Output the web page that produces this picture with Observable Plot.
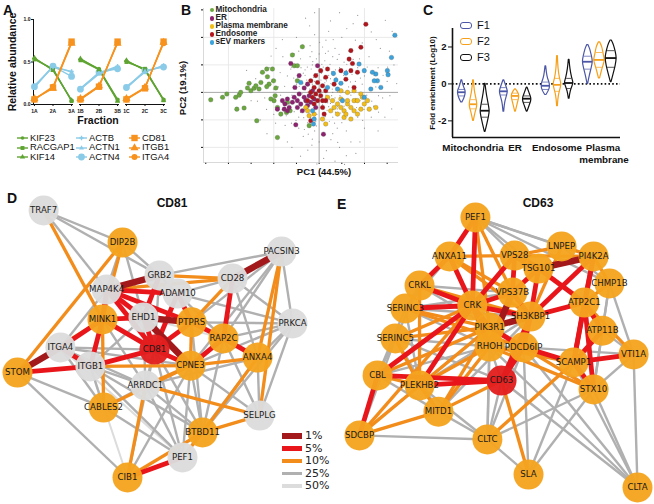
<!DOCTYPE html>
<html><head><meta charset="utf-8">
<script src="https://cdn.jsdelivr.net/npm/d3@7"></script>
<script src="https://cdn.jsdelivr.net/npm/@observablehq/plot@0.6"></script>
<style>
body{margin:0;background:#fff;}
#root{position:relative;width:654px;height:504px;overflow:hidden;font-family:Arial,"Liberation Sans",sans-serif;color:#111;}
#root svg{position:absolute;}
.t{position:absolute;white-space:nowrap;line-height:1;}
</style></head><body><div id="root"></div>
<script>
// ================= DATA =================
// Panel A
const groupsA = ["A","B","C"];
const fractionsA = [1,2,3];
const proteinsA = ["KIF23","RACGAP1","KIF14","ACTB","ACTN1","ACTN4","CD81","ITGB1","ITGA4"];
const KIF23   = [0.54,0.41,0.05, 0.53,0.42,0.06, 0.51,0.41,0.06];
const RACGAP1 = [0.53,0.42,0.04, 0.52,0.41,0.05, 0.50,0.42,0.05];
const KIF14   = [0.55,0.40,0.05, 0.54,0.41,0.04, 0.52,0.40,0.05];
const ACTB    = [0.22,0.44,0.39, 0.19,0.37,0.45, 0.21,0.38,0.46];
const ACTN1   = [0.20,0.45,0.38, 0.18,0.36,0.44, 0.19,0.39,0.45];
const ACTN4   = [0.21,0.45,0.33, 0.18,0.38,0.42, 0.20,0.40,0.44];
const CD81    = [0.06,0.20,0.74, 0.06,0.21,0.74, 0.06,0.19,0.74];
const ITGB1   = [0.07,0.19,0.72, 0.07,0.22,0.72, 0.07,0.20,0.73];
const ITGA4   = [0.06,0.21,0.73, 0.06,0.21,0.73, 0.06,0.20,0.72];

// Panel B (PC1, PC2)
const classesB = ["Mitochondria","ER","Plasma membrane","Endosome","sEV markers"];
const mitoPts = [[-4.78,-0.27],[-4.26,-0.18],[-4.07,-0.06],[-3.68,-0.18],[-3.53,-0.10],[-3.63,-0.61],[-3.31,-0.57],[-3.09,0.33],[-3.01,0.06],[-2.87,0.15],[-2.79,0.24],[-2.65,0.12],[-2.75,-1.03],[-2.57,0.36],[-2.50,0.73],[-2.31,0.85],[-2.28,0.57],[-2.21,0.30],[-2.01,0.42],[-1.91,0.16],[-1.94,-0.12],[-1.99,-0.30],[-1.84,-1.64],[-1.84,-0.55],[-1.69,-0.79],[-1.44,-0.73],[-1.28,-0.67],[-1.18,1.36],[-1.10,0.97],[-0.96,0.97],[-0.74,1.66],[-1.40,-0.36],[-2.13,-0.24],[-2.31,0.21],[-3.16,0.16],[-3.46,0.0],[-0.44,-1.21],[-0.96,0.42],[-2.06,0.85]];
const erPts = [[-1.62,-0.30],[-1.51,-0.42],[-1.40,-0.24],[-1.32,-0.55],[-1.54,-0.61],[-1.18,-0.36],[-1.10,-0.18],[-0.96,-0.30],[-0.88,-0.06],[-0.81,-0.42],[-0.66,-0.18],[-0.59,-0.30],[-0.44,-0.12],[-0.37,-0.36],[-0.22,-0.24],[-1.25,1.05],[-0.88,0.61],[-0.07,0.97],[-1.03,-1.18],[0.19,-1.52],[-0.51,0.30],[-0.29,0.06],[-1.40,-0.67],[-0.74,-0.67],[-0.15,-0.55],[-0.66,0.16],[-1.07,0.18],[-0.51,-0.48],[-1.84,-0.61],[-0.96,-0.55]];
const pmPts = [[0.96,0.06],[1.25,0],[1.54,0.06],[1.84,-0.06],[1.91,-0.18],[0.59,-0.30],[0.81,-0.42],[0.96,-0.55],[1.10,-0.67],[1.25,-0.42],[1.40,-0.55],[1.54,-0.67],[1.69,-0.79],[1.84,-0.61],[1.99,-0.42],[2.13,-0.30],[0.81,-0.79],[1.10,-0.91],[0.51,-0.67],[0.66,-0.55],[-0.59,-0.55],[-0.51,-0.67],[-0.44,-0.85],[2.50,-0.55],[0.37,-0.18],[-0.22,-0.79],[0.15,-0.97],[0.29,-1.15],[1.25,-0.30],[1.54,-0.30],[0.96,-0.24],[1.69,-0.30],[2.21,-0.61],[1.18,-0.79],[1.40,-0.97]];
const endoPts = [[2.06,2.48],[1.84,1.64],[1.40,1.52],[1.32,1.21],[1.47,1.05],[0.96,0.79],[1.40,0.79],[1.18,0.48],[1.69,0.73],[0.37,0.85],[0.29,0.55],[0.07,0.79],[0.66,0.30],[0.29,-0.30],[-0.07,-0.30],[0.15,-0.55],[-0.22,0.18],[-0.37,0.42],[1.54,0.18],[0.22,-0.79],[0,0.06],[-0.15,-0.06],[0.07,-0.12],[-0.29,-0.18],[0.15,0.24],[-0.07,0.36],[-0.22,-0.42],[-0.37,0],[0.15,-0.3],[-0.51,-0.30],[0.29,0.06],[-0.15,0.61],[-0.37,-1.03]];
const sevPts = [[3.34,2.08],[3.19,1.27],[3.01,0.79],[3.04,0.64],[2.50,0.67],[2.57,0.42],[2.43,0.42],[2.28,0.12],[2.35,0.73],[1.99,0.79],[1.76,1.03],[1.18,0.70],[0.63,0.69],[0.74,0.45],[0.96,0.33],[0.81,0.12],[1.03,-0.30],[-0.22,-0.97],[-0.25,-1.15],[-0.29,-0.67],[-0.81,0.36],[1.99,-0.18],[2.72,0.18],[0.37,0.18]];
const cloudPts = [[0.1,0.2],[-0.2,0.4],[0.3,-0.1],[-0.4,-0.3],[0.5,0.5],[-0.6,0.1],[0.2,-0.6],[-0.1,-0.8],[0.7,-0.2],[-0.8,-0.5],[0.4,0.9],[-0.3,1.0],[0.9,0.3],[-1.0,0.3],[0.6,-0.9],[-0.5,-1.1],[1.1,-0.5],[-1.2,-0.1],[0.0,1.4],[0.8,1.2],[-0.7,0.7],[1.2,0.8],[-1.4,0.6],[1.4,-0.1],[-0.2,-1.4],[0.3,-1.2],[1.0,-1.1],[-0.9,-0.9],[1.6,0.4],[-1.6,-0.4],[0.1,0.7],[-0.3,0.3],[0.4,0.2],[-0.5,-0.6],[0.6,0.0],[-0.1,-0.3],[0.2,0.5],[0.8,-0.6],[-0.6,-0.2],[0.5,-0.4],[-0.8,0.9],[0.9,0.9],[-1.1,-0.7],[1.3,0.2],[-0.4,1.3],[0.7,1.6],[-0.9,1.5],[1.5,1.2],[-1.3,1.1],[1.8,-0.3],[-1.8,0.2],[0.0,-1.8],[0.6,-1.5],[-0.7,-1.6],[1.2,-1.4],[1.7,-0.9],[-1.5,-1.2],[2.0,0.6],[-2.0,-0.8],[0.3,1.9],[-0.2,2.1],[1.0,2.0],[-1.0,2.0],[2.2,1.3],[-2.2,0.9],[2.4,-0.5],[-2.4,-0.2],[0.9,-2.0],[-0.5,-2.1],[1.9,1.8],[2.6,0.9],[2.8,-0.2],[3.0,0.4],[-2.6,-1.0],[-2.8,0.5],[1.5,2.5],[0.5,2.6],[-0.6,2.7],[2.3,2.2],[1.2,-2.3],[-1.2,-2.0],[3.2,-0.6],[-3.0,-0.3],[0.2,-2.4],[1.8,-1.8],[-1.9,1.6],[2.7,1.6],[3.3,1.0],[-3.2,0.8],[0.05,-0.05],[-0.15,0.15],[0.25,0.35],[-0.35,-0.15],[0.45,-0.25],[-0.25,0.55],[0.15,-0.45],[0.65,0.25],[-0.55,0.45],[0.35,-0.65],[-0.45,-0.75],[0.75,0.55],[0.85,-0.35],[-0.75,-0.05],[1.05,0.05],[-1.05,-0.25],[0.55,0.75],[-0.35,0.85],[0.95,-0.75],[1.15,0.45],[-0.95,0.55],[0.25,1.15],[-0.15,-1.05],[1.25,-0.85],[-1.25,0.85],[0.45,-1.05],[1.45,0.65],[-0.65,-1.35],[0.15,1.65],[1.65,-0.55],[-1.45,-0.85],[2.1,-0.1],[1.9,0.3],[2.3,-0.9],[2.5,0.2],[1.3,1.5],[0.6,1.3],[1.1,1.1],[1.7,0.9],[2.0,-1.3],[1.4,-1.8],[0.8,-1.3],[-0.3,-1.7],[-0.9,-1.3],[-1.7,-0.1],[-2.1,0.4],[-1.6,1.3],[-1.1,1.4],[-0.4,1.7],[0.4,1.5],[1.6,1.9],[2.9,-0.9],[2.6,-1.4],[3.1,1.5],[-2.3,-1.5],[-1.4,-1.8],[-0.1,-2.6],[0.7,-2.5],[1.7,2.8],[0.9,2.9],[-0.2,2.9],[0.12,0.02],[-0.08,-0.12],[0.32,0.12],[-0.28,0.22],[0.02,0.32],[0.22,-0.28],[-0.18,-0.52],[0.42,0.62],[-0.48,0.02],[0.62,-0.62],[0.52,0.32],[-0.62,0.62],[0.82,0.02],[-0.38,-0.92],[0.12,-0.98],[0.72,0.82],[1.02,-0.32],[-0.88,0.22],[0.18,0.92],[-0.12,1.22],
[0.08,0.45],[-0.42,0.12],[0.55,-0.12],[-0.22,-0.62],[0.38,-0.38],[-0.58,-0.42],[0.72,0.38],[-0.72,0.32],[0.18,-0.78],[-0.08,0.68],[0.92,-0.12],[-0.92,-0.08],[0.48,1.02],[-0.52,0.92],[1.08,0.62],[-1.12,0.52],[0.68,-1.12],[-0.68,-0.92],[1.32,-0.32],[-1.32,-0.42],[0.28,1.42],[-0.32,1.48],[1.52,0.12],[-1.52,0.22],[0.88,1.38],[-0.82,1.22],[1.42,-1.02],[-1.22,-1.12],[1.82,0.52],[-1.72,0.72],[0.12,-1.52],[0.52,-1.72],[-0.48,-1.52],[2.12,0.92],[2.32,-0.32],[1.98,-0.62],[2.62,-0.72],[2.82,0.62],[3.12,-0.12],[-2.32,-0.62],[-2.52,0.32],[-1.92,-1.12],[0.42,2.22],[-0.42,2.42],[1.22,2.32],[2.02,2.52],[2.52,1.92],[1.12,-2.62],[-0.82,-2.32],[0.32,-2.12],[1.62,-2.22],[-1.62,1.92],[-2.12,1.32],[3.42,0.32],[3.22,2.22],[2.92,2.62],[-0.12,0.02],[0.22,0.12],[-0.32,-0.02],[0.02,-0.22],[0.32,0.42],[-0.42,0.42],[0.42,-0.52],[-0.52,-0.32],[0.62,0.62],[-0.62,0.82],[0.82,-0.52],[-0.82,-0.72],[1.02,0.32],[-1.02,0.12],[0.12,1.02],[-0.12,-1.22],[1.22,1.02],[-1.22,0.92],[1.12,-0.82],[-1.02,-1.02],[0.72,-0.72],[-0.28,1.12],[0.58,0.12],[-0.62,-0.62],[1.38,0.38],[1.62,-0.22],[0.98,0.72],[0.28,-0.88],[-0.88,0.62],[2.22,0.12],[2.42,0.62],[1.78,1.22],[1.92,-1.02],[-1.42,-0.22],[-1.82,-0.52],[-2.02,0.12],[0.02,1.82],[0.62,1.92],[-0.72,1.72],[0.82,-1.82],[-0.32,-1.92],[2.62,-0.12],[3.02,0.92],[-2.72,-0.32]];

// Panel C (log10 fold enrichment): violin profiles (value, half-width) per F1/F2/F3
const violinCats = ["Mitochondria","ER","Endosome","Plasma membrane"];
const fracC = ["F1","F2","F3"];
const mitoY = [[-1.0,-0.8,-0.55,-0.4,-0.2,0.0,0.2],[-2.0,-1.6,-1.3,-1.1,-0.8,-0.4,0.2],[-2.6,-2.2,-1.8,-1.5,-1.1,-0.5,0.0]];
const mitoW = [[0.05,0.22,0.33,0.34,0.2,0.1,0.03],[0.03,0.15,0.3,0.34,0.25,0.1,0.03],[0.03,0.18,0.32,0.42,0.3,0.12,0.03]];
const erY = [[-1.5,-1.0,-0.6,-0.4,-0.2,0.2],[-1.5,-1.1,-0.8,-0.65,-0.45,-0.3],[-1.5,-1.2,-0.95,-0.8,-0.5,-0.2]];
const erW = [[0.03,0.1,0.3,0.36,0.25,0.03],[0.03,0.18,0.3,0.34,0.22,0.03],[0.03,0.2,0.35,0.38,0.2,0.03]];
const endoY = [[-0.6,-0.35,-0.1,0.1,0.4,0.95],[-1.2,-0.6,-0.2,0.0,0.3,0.8,1.5],[-0.8,-0.4,-0.1,0.05,0.3,0.8,1.3]];
const endoW = [[0.05,0.3,0.38,0.3,0.12,0.03],[0.03,0.1,0.3,0.35,0.2,0.08,0.03],[0.03,0.12,0.3,0.4,0.25,0.1,0.03]];
const pmY = [[0.0,0.4,0.9,1.2,1.5,1.9,2.1],[0.3,0.7,1.1,1.3,1.6,2.0,2.25],[0.1,0.5,1.0,1.4,1.7,2.1,2.35]];
const pmW = [[0.03,0.15,0.35,0.45,0.35,0.2,0.05],[0.05,0.2,0.4,0.48,0.35,0.25,0.05],[0.03,0.2,0.4,0.5,0.4,0.25,0.05]];
const medianC = [[-0.45,-1.1,-1.45],[-0.4,-0.65,-0.8],[-0.1,-0.05,0.05],[1.2,1.3,1.4]];
const q1C = [[-0.65,-1.35,-1.8],[-0.6,-0.85,-1.0],[-0.3,-0.4,-0.25],[0.8,0.9,0.9]];
const q3C = [[-0.3,-0.85,-1.1],[-0.2,-0.5,-0.65],[0.1,0.3,0.3],[1.5,1.7,1.8]];

// Panels D/E: network layouts (layout units) and edges with significance level
const levels = ["50%","25%","10%","5%","1%"];
const nodesD = ["TRAF7","DIP2B","PACSIN3","GRB2","CD28","MAP4K4","ADAM10","MINK1","EHD1","PTPRS","PRKCA","ITGA4","CD81","RAP2C","STOM","ITGB1","CPNE3","ANXA4","ARRDC1","CABLES2","SELPLG","BTBD11","PEF1","CIB1"];
const nodeDx = [9.5,38.2,96,51.6,78.2,32.4,58.2,30.9,45.8,63.3,100,15.6,49.8,74.9,0,26.5,62.9,87.3,46.5,31.3,88,67.3,60,40];
const nodeDy = [100,88,84.6,75.7,74.5,70.4,68.9,59.2,59.9,58.1,57.7,48.7,47.9,52.1,39.3,41.6,41.9,44.9,34.5,26.2,23.2,16.9,7.5,0];
const nodeDkind = ["gray","orange","gray","gray","gray","gray","gray","orange","gray","orange","gray","gray","red","orange","orange","gray","orange","orange","gray","orange","gray","orange","gray","orange"];
const edgesD = [
["MAP4K4","GRB2","1%"],["CD28","PACSIN3","1%"],["EHD1","PTPRS","1%"],["STOM","ITGA4","1%"],["EHD1","CPNE3","1%"],
["MAP4K4","EHD1","5%"],["MAP4K4","ADAM10","5%"],["MAP4K4","PTPRS","5%"],["MAP4K4","CD81","5%"],["MINK1","EHD1","5%"],["MINK1","CD81","5%"],["MINK1","ITGB1","5%"],["MINK1","ITGA4","5%"],["EHD1","CD81","5%"],["GRB2","EHD1","5%"],["ADAM10","PTPRS","5%"],["ADAM10","CD81","5%"],["PTPRS","CD81","5%"],["PTPRS","RAP2C","5%"],["CD81","CPNE3","5%"],["CD81","ITGB1","5%"],["RAP2C","CD28","5%"],["RAP2C","CPNE3","5%"],["RAP2C","ANXA4","5%"],["STOM","ITGB1","5%"],["CIB1","PEF1","5%"],["ITGA4","ITGB1","5%"],["MAP4K4","MINK1","5%"],
["TRAF7","MINK1","10%"],["DIP2B","STOM","10%"],["DIP2B","MINK1","10%"],["GRB2","CD28","10%"],["MAP4K4","CD28","10%"],["CD28","PTPRS","10%"],["CPNE3","ANXA4","10%"],["ITGB1","CPNE3","10%"],["ARRDC1","SELPLG","10%"],["ARRDC1","CIB1","10%"],["ARRDC1","CPNE3","10%"],["BTBD11","SELPLG","10%"],["BTBD11","PEF1","10%"],["BTBD11","CIB1","10%"],["PACSIN3","ANXA4","10%"],["PACSIN3","SELPLG","10%"],["CABLES2","CPNE3","10%"],["STOM","MINK1","10%"],["ANXA4","BTBD11","10%"],["CABLES2","MINK1","10%"],["PTPRS","CPNE3","10%"],
["TRAF7","DIP2B","25%"],["TRAF7","GRB2","25%"],["TRAF7","MAP4K4","25%"],["DIP2B","GRB2","25%"],["DIP2B","MAP4K4","25%"],["DIP2B","EHD1","25%"],["GRB2","PACSIN3","25%"],["GRB2","ADAM10","25%"],["PACSIN3","PRKCA","25%"],["PACSIN3","PTPRS","25%"],["PACSIN3","RAP2C","25%"],["PACSIN3","CPNE3","25%"],["PRKCA","CD28","25%"],["PRKCA","PTPRS","25%"],["PRKCA","RAP2C","25%"],["PRKCA","CPNE3","25%"],["PRKCA","ADAM10","25%"],["PRKCA","BTBD11","25%"],["PRKCA","SELPLG","25%"],["PRKCA","ANXA4","25%"],["STOM","CIB1","25%"],["STOM","CABLES2","25%"],["ITGA4","CD81","25%"],["ITGA4","ARRDC1","25%"],["ITGA4","CPNE3","25%"],["ITGA4","CABLES2","25%"],["ITGB1","ARRDC1","25%"],["ITGB1","PEF1","25%"],["ITGB1","BTBD11","25%"],["ARRDC1","PEF1","25%"],["ARRDC1","BTBD11","25%"],["ARRDC1","ANXA4","25%"],["CABLES2","PEF1","25%"],["CPNE3","BTBD11","25%"],["CPNE3","PEF1","25%"],["CPNE3","SELPLG","25%"],["CD81","BTBD11","25%"],["CD81","ARRDC1","25%"],["CD81","PEF1","25%"],["CIB1","CPNE3","25%"],["CIB1","CD81","25%"],["ANXA4","SELPLG","25%"],["RAP2C","BTBD11","25%"],["MINK1","ARRDC1","25%"],["EHD1","ARRDC1","25%"],["PTPRS","BTBD11","25%"],["CD28","ANXA4","25%"],["CD28","ADAM10","25%"],["GRB2","CD81","25%"],["MAP4K4","ITGA4","25%"],["CABLES2","ARRDC1","25%"],["ITGB1","CABLES2","25%"],["EHD1","ITGB1","25%"],["ADAM10","RAP2C","25%"],["ANXA4","PEF1","25%"],["RAP2C","SELPLG","25%"],
["CIB1","ITGB1","50%"],["ITGA4","PEF1","50%"],["MINK1","CPNE3","50%"],["EHD1","RAP2C","50%"]
];
const nodesE = ["PEF1","LNPEP","VPS28","PI4K2A","ANXA11","TSG101","CHMP1B","CRKL","VPS37B","ATP2C1","CRK","SERINC3","SH3KBP1","PIK3R1","ATP11B","SERINC5","RHOH","PDCD6IP","VTI1A","SCAMP1","CBL","PLEKHB2","CD63","STX10","MITD1","SDCBP","CLTC","SLA","CLTA"];
const nodeEx = [41.7,72.7,55.8,84.2,32.4,64.4,89.9,21.6,55.0,80.9,40.6,16.5,61.5,46.8,87.4,12.9,46.8,59.0,98.6,77.0,6.5,21.6,51.1,84.2,28.4,0,46.0,60.8,100];
const nodeEy = [100,89.3,85.9,85.6,85.6,81.1,75.6,74.8,72.2,68.5,67.4,66.3,63.3,59.3,58.1,55.2,52.2,51.9,49.3,46.3,41.5,37.8,39.6,36.3,28.1,19.3,17.8,4.8,0];
const nodeEkind = nodesE.map(n => n === "CD63" ? "red" : "orange");
const edgesE = [
["TSG101","PI4K2A","1%"],["VPS28","TSG101","1%"],["VPS37B","RHOH","1%"],["PIK3R1","SH3KBP1","1%"],
["PEF1","ANXA11","5%"],["PEF1","CRK","5%"],["ANXA11","CRK","5%"],["CRKL","CRK","5%"],["CRK","SERINC3","5%"],["CRK","VPS28","5%"],["CRK","VPS37B","5%"],["CRK","SH3KBP1","5%"],["CRK","PIK3R1","5%"],["CRK","CBL","5%"],["VPS28","VPS37B","5%"],["TSG101","VPS37B","5%"],["TSG101","SH3KBP1","5%"],["TSG101","ATP2C1","5%"],["PI4K2A","ATP2C1","5%"],["PI4K2A","SH3KBP1","5%"],["PI4K2A","SCAMP1","5%"],["ATP2C1","SCAMP1","5%"],["ATP2C1","SH3KBP1","5%"],["ATP2C1","ATP11B","5%"],["SH3KBP1","PDCD6IP","5%"],["SH3KBP1","CD63","5%"],["PDCD6IP","CD63","5%"],["PDCD6IP","SCAMP1","5%"],["PLEKHB2","CD63","5%"],["CBL","CD63","5%"],["CBL","SDCBP","5%"],["SCAMP1","VTI1A","5%"],["SCAMP1","STX10","5%"],["ATP11B","SCAMP1","5%"],["VPS37B","SH3KBP1","5%"],["PIK3R1","PDCD6IP","5%"],["CRK","RHOH","5%"],["ANXA11","CRKL","5%"],["CRK","PLEKHB2","5%"],["ATP2C1","STX10","5%"],
["PEF1","VPS37B","10%"],["PEF1","PIK3R1","10%"],["ANXA11","VPS37B","10%"],["ANXA11","SH3KBP1","10%"],["CRKL","SH3KBP1","10%"],["CRKL","PLEKHB2","10%"],["SERINC3","PIK3R1","10%"],["SERINC3","PDCD6IP","10%"],["SERINC5","CRK","10%"],["SERINC5","PLEKHB2","10%"],["SERINC5","PIK3R1","10%"],["CBL","PIK3R1","10%"],["CBL","PLEKHB2","10%"],["SDCBP","MITD1","10%"],["SDCBP","PLEKHB2","10%"],["SDCBP","CRK","10%"],["MITD1","PLEKHB2","10%"],["MITD1","RHOH","10%"],["PLEKHB2","PIK3R1","10%"],["PLEKHB2","RHOH","10%"],["CD63","SLA","10%"],["CLTC","SCAMP1","10%"],["STX10","PDCD6IP","10%"],["STX10","RHOH","10%"],["CHMP1B","PI4K2A","10%"],["CHMP1B","ATP2C1","10%"],["LNPEP","VPS28","10%"],["LNPEP","SH3KBP1","10%"],["LNPEP","PI4K2A","10%"],["RHOH","SCAMP1","10%"],["VTI1A","ATP2C1","10%"],["MITD1","PIK3R1","10%"],["CD63","MITD1","10%"],["VPS28","PI4K2A","10%"],["ANXA11","VPS28","10%"],
["PEF1","LNPEP","25%"],["PEF1","PI4K2A","25%"],["PEF1","VPS28","25%"],["PEF1","TSG101","25%"],["PEF1","CHMP1B","25%"],["CHMP1B","VTI1A","25%"],["CHMP1B","STX10","25%"],["CHMP1B","ATP11B","25%"],["VTI1A","STX10","25%"],["VTI1A","CLTA","25%"],["STX10","CLTA","25%"],["SCAMP1","CLTA","25%"],["CD63","CLTA","25%"],["SLA","STX10","25%"],["SLA","SCAMP1","25%"],["SLA","CLTC","25%"],["CLTC","SDCBP","25%"],["CLTC","MITD1","25%"],["CLTC","CD63","25%"],["CLTC","RHOH","25%"],["CLTC","PLEKHB2","25%"],["CLTC","PIK3R1","25%"],["SDCBP","SERINC5","25%"],["CBL","SERINC3","25%"],["CBL","SERINC5","25%"],["CBL","MITD1","25%"],["CRKL","SERINC3","25%"],["CRKL","SERINC5","25%"],["SERINC3","RHOH","25%"],["SERINC3","PLEKHB2","25%"],["SERINC5","RHOH","25%"],["SERINC5","CD63","25%"],["MITD1","SH3KBP1","25%"],["PLEKHB2","SH3KBP1","25%"],["RHOH","CD63","25%"],["RHOH","PDCD6IP","25%"],["CLTA","PDCD6IP","25%"],["VTI1A","ATP11B","25%"],["LNPEP","CHMP1B","25%"],["SERINC3","SH3KBP1","25%"],["CRKL","PIK3R1","25%"],["SERINC5","MITD1","25%"],["CBL","RHOH","25%"],["SDCBP","PIK3R1","25%"],["CLTC","STX10","25%"],["CLTC","PDCD6IP","25%"],["SLA","PDCD6IP","25%"],["VTI1A","PDCD6IP","25%"],["ANXA11","SERINC3","25%"],["CRKL","VPS37B","25%"],["SERINC3","VPS37B","25%"],["ATP11B","STX10","25%"],["CLTA","RHOH","25%"]
];

// ================= STYLE CONSTANTS =================
const FONT = "Arial, 'Liberation Sans', sans-serif";
const colorsA = ["#5fa432","#5fa432","#5fa432","#8acbe8","#8acbe8","#8acbe8","#f7921e","#f7921e","#f7921e"];
const symbolsA = ["circle","square","triangle","cross","triangle","circle","square","triangle","circle"];
const sizeA = {KIF23:1.8,RACGAP1:2.2,KIF14:2,ACTB:1.8,ACTN1:1.8,ACTN4:3.4,CD81:3.6,ITGB1:3,ITGA4:3};
const colorsB = {"Mitochondria":"#6aa83e","ER":"#8e2270","Plasma membrane":"#f2bd16","Endosome":"#b3141c","sEV markers":"#3aa2dc"};
const colorsC = ["#4b57a6","#f6a01a","#111111"];
const levelColor = {"1%":"#a3191b","5%":"#e8161b","10%":"#f28c1a","25%":"#b0b0b0","50%":"#dcdcdc"};
const levelWidth = {"1%":6.5,"5%":4.8,"10%":3.3,"25%":2.4,"50%":2};
const kindColor = {gray:"#dcdcdc", orange:"#f5a31e", red:"#e31e1e"};

const root = document.getElementById("root");
function place(el, left, top){ el.style.left = left+"px"; el.style.top = top+"px"; root.appendChild(el); return el; }
function txt(s, x, y, css){ const d = document.createElement("div"); d.className="t"; d.textContent = s; d.style.cssText += css||""; d.style.left = x+"px"; d.style.top = y+"px"; root.appendChild(d); return d; }

// ================= PANEL A =================
const seriesA = {KIF23,RACGAP1,KIF14,ACTB,ACTN1,ACTN4,CD81,ITGB1,ITGA4};
const rowsA = [];
proteinsA.forEach(p => groupsA.forEach((g,gi) => fractionsA.forEach((f,fi) => rowsA.push({protein:p, group:g, frac:f, value:seriesA[p][gi*3+fi]}))));
const tickRowsA = [];
groupsA.forEach(g => fractionsA.forEach(f => tickRowsA.push({group:g, frac:f, label:f+g})));
const plotA = Plot.plot({
  width:170, height:130, marginLeft:33, marginRight:5, marginTop:19, marginBottom:26,
  style:{fontSize:"5px", fontWeight:"bold", fontFamily:FONT, background:"transparent", overflow:"visible"},
  fx:{domain:groupsA, paddingInner:0.15, paddingOuter:0, axis:null, label:null},
  x:{domain:[0.95,3.05], ticks:fractionsA, tickSize:2, tickFormat:() => "", label:null, line:true},
  y:{domain:[0,1], ticks:[0,0.5,1], tickFormat:".1f", tickSize:2, tickPadding:1, label:null, line:true},
  color:{domain:proteinsA, range:colorsA},
  symbol:{domain:proteinsA, range:symbolsA},
  r:{type:"identity"},
  marks:[
    Plot.line(rowsA, {fx:"group", x:"frac", y:"value", z:"protein", stroke:"protein", strokeWidth:1.4}),
    Plot.dot(rowsA, {fx:"group", x:"frac", y:"value", symbol:"protein", fill:"protein", r:d => sizeA[d.protein]}),
    Plot.text(tickRowsA, {fx:"group", x:"frac", y:() => 0, dy:7, text:"label", fontSize:5})
  ]
});
place(plotA, 0, 0);
txt("A", 3, 3, "font-size:14px;font-weight:bold;");
txt("Relative abundance", 12, 62, "font-size:10.5px;font-weight:bold;transform:translate(-50%,-50%) rotate(-90deg);");
txt("Fraction", 98, 120, "font-size:10.5px;font-weight:bold;transform:translate(-50%,-50%);");
// legend A
proteinsA.forEach((p,i) => {
  const col = Math.floor(i/3), row = i%3;
  const x0 = [16,75,128][col], y0 = [138,147.5,157][row];
  const svg = d3.create("svg").attr("width",13).attr("height",10).style("left",x0+"px").style("top",(y0-5)+"px");
  svg.append("line").attr("x1",1).attr("x2",12).attr("y1",5).attr("y2",5).attr("stroke",colorsA[i]).attr("stroke-width",1.4);
  svg.append("path").attr("transform","translate(6.5,5)").attr("fill",colorsA[i])
     .attr("d", d3.symbol(({circle:d3.symbolCircle,square:d3.symbolSquare,triangle:d3.symbolTriangle,cross:d3.symbolCross})[symbolsA[i]], Math.PI*sizeA[p]*sizeA[p])());
  root.appendChild(svg.node());
  txt(p, x0+14, y0-5.2, "font-size:9.4px;");
});

// ================= PANEL B =================
const ptsByClass = {"Mitochondria":mitoPts,"ER":erPts,"Plasma membrane":pmPts,"Endosome":endoPts,"sEV markers":sevPts};
const rowsB = [];
classesB.forEach(c => ptsByClass[c].forEach(([x,y]) => rowsB.push({cls:c, pc1:x, pc2:y})));
const cloudB = cloudPts.map(([x,y]) => ({pc1:x, pc2:y}));
const gridXB = [-4,-2,2], gridYB = [-2,-1,1,2];
const plotB = Plot.plot({
  width:270, height:180, marginLeft:63, marginRight:12, marginTop:8, marginBottom:18,
  style:{fontSize:"4px", fontFamily:FONT, background:"transparent", overflow:"visible"},
  x:{domain:[-5.1,3.5], ticks:d3.range(-5,4), tickSize:2, tickFormat:() => "", label:null},
  y:{domain:[-2.55,3.05], ticks:d3.range(-2,4), tickSize:2, tickFormat:() => "", label:null},
  color:{domain:classesB, range:classesB.map(c => colorsB[c])},
  marks:[
    Plot.ruleX(gridXB, {stroke:"#e4e4e4", strokeWidth:0.8}),
    Plot.ruleY(gridYB, {stroke:"#e4e4e4", strokeWidth:0.8}),
    Plot.ruleX([0], {stroke:"#a8a8a8", strokeWidth:1}),
    Plot.ruleY([0], {stroke:"#a8a8a8", strokeWidth:1}),
    Plot.ruleX([-5.1], {stroke:"#cfcfcf", strokeWidth:0.8}),
    Plot.ruleY([-2.55], {stroke:"#cfcfcf", strokeWidth:0.8}),
    Plot.dot(cloudB, {x:"pc1", y:"pc2", r:0.6, fill:"#777", fillOpacity:0.75}),
    Plot.dot(rowsB, {x:"pc1", y:"pc2", r:2.3, fill:"cls", stroke:"#555", strokeWidth:0.25})
  ]
});
place(plotB, 140, 0);
txt("B", 181, 3, "font-size:14px;font-weight:bold;");
classesB.forEach((c,i) => {
  const y = [10,18.3,26.4,34.5,42.7][i];
  const d = document.createElement("div"); d.className="t";
  d.style.cssText += `left:209.5px;top:${y-2.3}px;width:4.6px;height:4.6px;border-radius:50%;background:${colorsB[c]};`;
  root.appendChild(d);
  txt(c, 215.5, y-4.3, "font-size:8.2px;font-weight:bold;color:#222;");
});
txt("PC1 (44.5%)", 324, 172, "font-size:9.5px;font-weight:bold;transform:translate(-50%,-50%);");
txt("PC2 (19.1%)", 183, 88, "font-size:9.5px;font-weight:bold;transform:translate(-50%,-50%) rotate(-90deg);");

// ================= PANEL C =================
const violinYs = [mitoY, erY, endoY, pmY], violinWs = [mitoW, erW, endoW, pmW];
const vRows = [], statRows = [];
violinCats.forEach((c,ci) => fracC.forEach((f,fi) => {
  const ys = violinYs[ci][fi], ws = violinWs[ci][fi];
  ys.forEach((y,k) => vRows.push({cat:c, f, off:fi-1, key:c+f, y, w:ws[k]}));
  const wAt = y0 => { for (let k=1;k<ys.length;k++) if (y0 <= ys[k]) { const t=(y0-ys[k-1])/(ys[k]-ys[k-1]); return ws[k-1]+t*(ws[k]-ws[k-1]); } return ws[ws.length-1]; };
  [[medianC,"med"],[q1C,"q"],[q3C,"q"]].forEach(([arr,kind]) => { const y = arr[ci][fi]; statRows.push({cat:c, f, off:fi-1, y, w:wAt(y)*0.85, kind}); });
}));
const yDomC = [-2.9, 3];
const plotC = Plot.plot({
  width:244, height:170, marginLeft:41, marginRight:33, marginTop:28, marginBottom:33,
  style:{fontSize:"9.5px", fontWeight:"bold", fontFamily:FONT, background:"transparent", overflow:"visible"},
  fx:{domain:violinCats, paddingInner:0, paddingOuter:0, axis:null, label:null},
  x:{domain:[-1.8,1.8], axis:null},
  y:{domain:yDomC, ticks:[-2,0,2], tickFormat:d => String(d), tickSize:4, tickPadding:2, label:null},
  color:{domain:fracC, range:colorsC},
  marks:[
    Plot.ruleY([0], {stroke:"#111", strokeWidth:1.6, strokeDasharray:"1.6,2.2"}),
    Plot.ruleY([yDomC[0]], {stroke:"#111", strokeWidth:1.6}),
    Plot.ruleX([{cat:violinCats[0]}], {fx:"cat", x:() => -1.8, y1:() => yDomC[0], y2:() => yDomC[1], stroke:"#111", strokeWidth:1.6}),
    Plot.areaX(vRows, {fx:"cat", z:"key", y:"y", x1:d => d.off - d.w, x2:d => d.off + d.w, fill:"white", stroke:"f", strokeWidth:1.2, curve:"basis"}),
    Plot.ruleY(statRows.filter(d => d.kind === "q"), {fx:"cat", y:"y", x1:d => d.off - d.w, x2:d => d.off + d.w, stroke:"f", strokeWidth:0.7}),
    Plot.ruleY(statRows.filter(d => d.kind === "med"), {fx:"cat", y:"y", x1:d => d.off - d.w*1.1, x2:d => d.off + d.w*1.1, stroke:"f", strokeWidth:1.8})
  ]
});
place(plotC, 410, 0);
txt("C", 423, 3, "font-size:14px;font-weight:bold;");
txt("Fold enrichment (Log10)", 433, 83, "font-size:8px;font-weight:bold;transform:translate(-50%,-50%) rotate(-90deg);");
// category labels (fx axis)
[["Mitochondria",473,147.5],["ER",515,147.5],["Endosome",557,147.5],["Plasma",603,147.5],["membrane",604,159.5]].forEach(([s,x,y]) =>
  txt(s, x, y, "font-size:9.8px;font-weight:bold;transform:translate(-50%,-50%);"));
fracC.forEach((f,i) => {
  const y = [25,41,57][i];
  const b = document.createElement("div"); b.className="t";
  b.style.cssText += `left:460px;top:${y-3.5}px;width:10px;height:5px;border:1.3px solid ${colorsC[i]};border-radius:3px;`;
  root.appendChild(b);
  txt(f, 477, y-5.5, "font-size:11px;");
});

// ================= NETWORKS =================
function network(nodes, xs, ys, kinds, edges, opts){
  const pos = {}; const nodeRows = nodes.map((n,i) => (pos[n] = {name:n, x:xs[i], y:ys[i], kind:kinds[i]}));
  const edgeRows = edges.map(([a,b,l]) => ({x1:pos[a].x, y1:pos[a].y, x2:pos[b].x, y2:pos[b].y, level:l}));
  return Plot.plot({
    width:opts.width, height:opts.height, marginLeft:opts.ml, marginRight:opts.mr, marginTop:opts.mt, marginBottom:opts.mb,
    style:{fontFamily:"'DejaVu Sans', sans-serif", background:"transparent", overflow:"visible"},
    x:{domain:[0,100], axis:null}, y:{domain:[0,100], axis:null},
    marks:[
      ...levels.map(l => Plot.link(edgeRows.filter(e => e.level === l), {x1:"x1", y1:"y1", x2:"x2", y2:"y2", stroke:levelColor[l], strokeWidth:levelWidth[l]})),
      ...["gray","orange","red"].map(k => Plot.dot(nodeRows.filter(n => n.kind === k), {x:"x", y:"y", r:15, fill:kindColor[k], fillOpacity:0.96})),
      Plot.text(nodeRows, {x:"x", y:"y", text:"name", fontSize:8.6, fill:"#1a1a1a"})
    ]
  });
}
const plotD = network(nodesD, nodeDx, nodeDy, nodeDkind, edgesD, {width:330, height:324, ml:17, mr:38, mt:30, mb:27});
place(plotD, 0, 180);
txt("D", 7, 191, "font-size:14px;font-weight:bold;");
txt("CD81", 172, 203, "font-size:12px;font-weight:bold;transform:translate(-50%,-50%);");
["1%","5%","10%","25%","50%"].forEach((l,i) => {
  const y = [436,448.5,461,473.5,486][i];
  const b = document.createElement("div"); b.className="t";
  const h = [6,5,4,3.6,3.6][i];
  b.style.cssText += `left:282px;top:${y-h/2}px;width:20px;height:${h}px;background:${levelColor[l]};`;
  root.appendChild(b);
  txt(l, 305, y-6, "font-size:11px;font-family:'DejaVu Sans',sans-serif;color:#222;");
});

const plotE = network(nodesE, nodeEx, nodeEy, nodeEkind, edgesE, {width:324, height:324, ml:29, mr:17, mt:37, mb:17});
place(plotE, 330, 180);
txt("E", 337, 197, "font-size:14px;font-weight:bold;");
txt("CD63", 538, 203, "font-size:12px;font-weight:bold;transform:translate(-50%,-50%);");
</script></body></html>
